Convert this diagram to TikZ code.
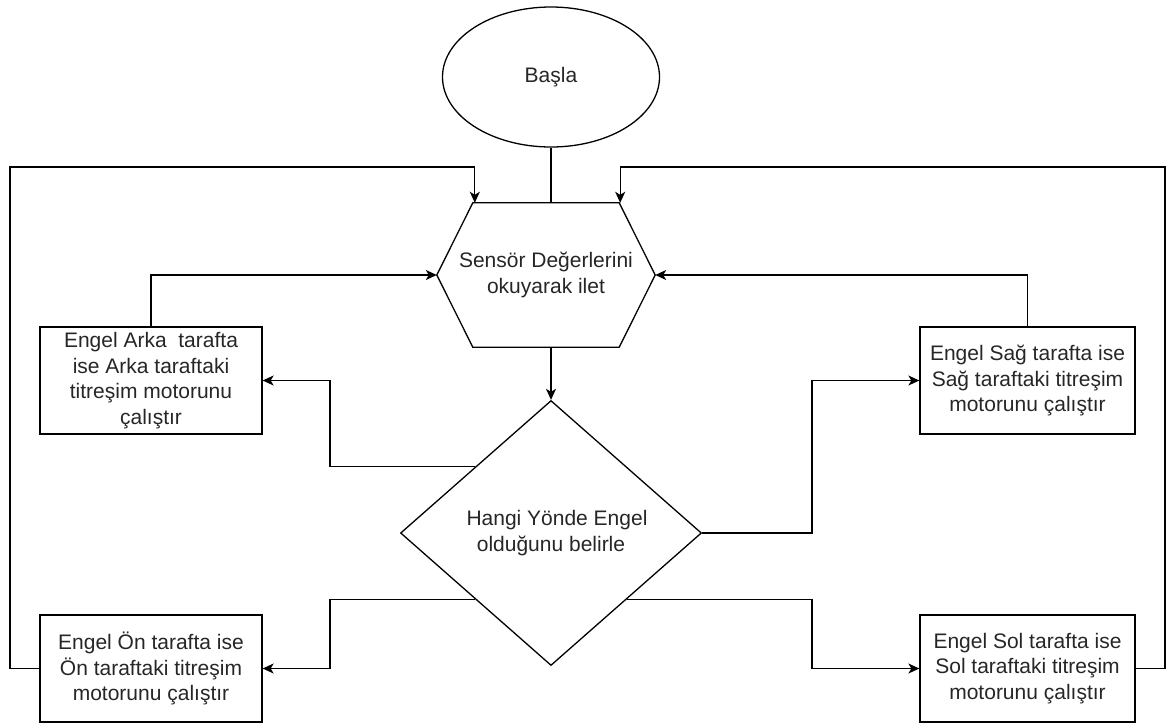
\documentclass[tikz,border=0pt]{standalone}
\usepackage{fontspec}
\setmainfont{Liberation Sans}
\usetikzlibrary{shapes.geometric,arrows.meta,calc}
\begin{document}
\begin{tikzpicture}[x=1pt,y=-1pt,
  every node/.style={font=\fontsize{21}{25.5}\selectfont, text=black!85, align=center},
  line/.style={line width=1.3pt, draw=black},
  arr/.style={line, -{Stealth[length=11pt,width=10pt,inset=3pt]}},
  box/.style={draw, line width=1.3pt, minimum width=222pt, minimum height=107pt, inner sep=2pt},
]
\useasboundingbox (0,0) rectangle (1169,724);
\node[ellipse, draw, line width=1.3pt, minimum width=217pt, minimum height=140pt] (start) at (551,77) {Başla};
\node[minimum width=218pt, minimum height=144pt, inner sep=0pt] (hex) at (546,275) {Sensör Değerlerini\\okuyarak ilet};
\draw[line] ($(hex.north west)+(36,0)$) -- ($(hex.north east)+(-36,0)$) -- (hex.east) -- ($(hex.south east)+(-36,0)$) -- ($(hex.south west)+(36,0)$) -- (hex.west) -- cycle;
\node[diamond, draw, line width=1.3pt, minimum width=301pt, minimum height=265pt, aspect=1.136, inner sep=0pt] (dia) at (551,533) {\hspace*{12pt}Hangi Yönde Engel\\olduğunu belirle};

\node[box] (arka) at (151,380.5) {Engel Arka\ \ tarafta\\ise Arka taraftaki\\titreşim motorunu\\çalıştır};
\node[box] (on) at (151,668.5) {Engel Ön tarafta ise\\Ön taraftaki titreşim\\motorunu çalıştır};
\node[box, minimum width=215pt] (sag) at (1027.5,380.5) {Engel Sağ tarafta ise\\Sağ taraftaki titreşim\\motorunu çalıştır};
\node[box, minimum width=215pt] (sol) at (1027.5,668.5) {Engel Sol tarafta ise\\Sol taraftaki titreşim\\motorunu çalıştır};

\coordinate (lbus) at (330,0);
\coordinate (rbus) at (812,0);
\coordinate (ltop) at (10,167);
\coordinate (rtop) at (1165,167);
\coordinate (hinL) at ($(hex.north west)+(38,0)$);
\coordinate (hinR) at ($(hex.north east)+(-35,0)$);

\draw[line] (start.south) -- (start.south |- hex.north);
\draw[arr] (dia.north |- hex.south) -- (dia.north);
\draw[arr] (dia.north west) -- (dia.north west -| lbus) |- (arka.east);
\draw[arr] (dia.south west) -- (dia.south west -| lbus) |- (on.east);
\draw[arr] (dia.east) -- (dia.east -| rbus) |- (sag.west);
\draw[arr] (dia.south east) -- (dia.south east -| rbus) |- (sol.west);
\draw[arr] (arka.north) |- (hex.west);
\draw[arr] (sag.north) |- (hex.east);
\draw[arr] (on.west) -- (on.west -| ltop) -- (ltop) -| (hinL);
\draw[arr] (sol.east) -- (sol.east -| rtop) -- (rtop) -| (hinR);
\end{tikzpicture}
\end{document}
